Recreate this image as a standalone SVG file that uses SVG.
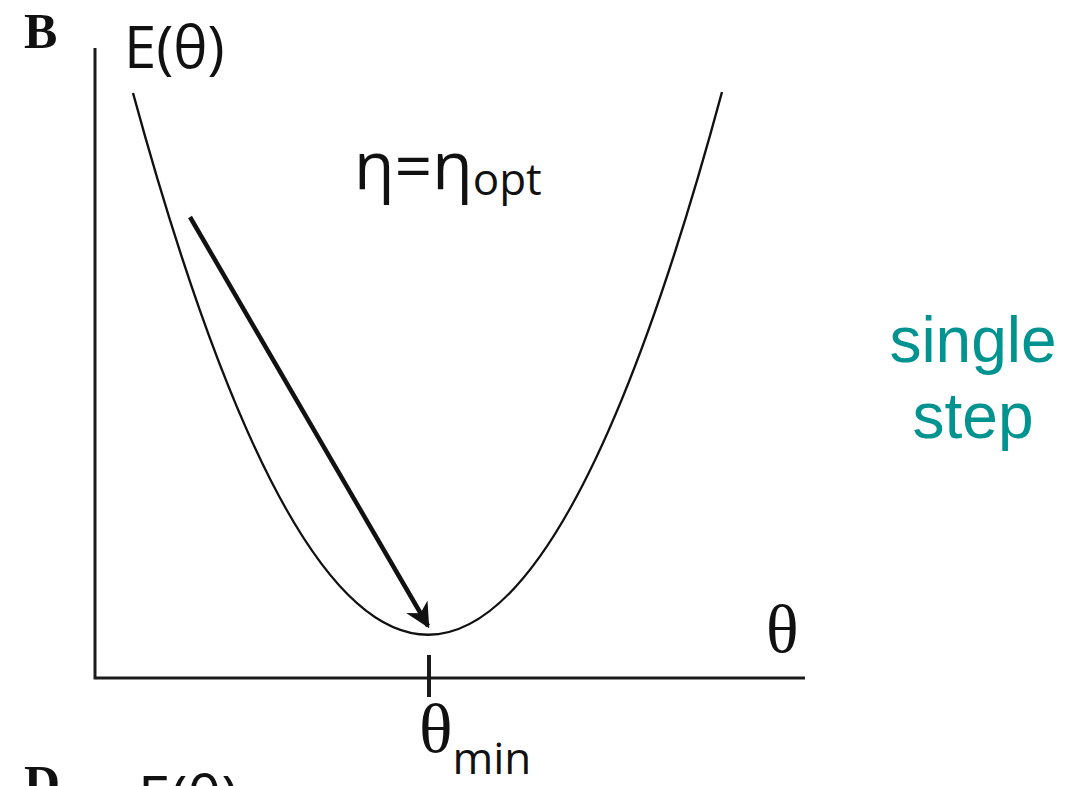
<svg xmlns="http://www.w3.org/2000/svg" width="1084" height="786" viewBox="0 0 1084 786">
<style>
.ax{stroke:#1a1a1a;stroke-width:3;fill:none}
.serif{font-family:"Liberation Serif","DejaVu Serif",serif;fill:#111}
.sans{font-family:"Open Sans","Liberation Sans",sans-serif;fill:#111}
.teal{font-family:"Liberation Sans",Arial,sans-serif;fill:#00938f;font-size:64px;text-anchor:middle}
</style>
<defs>
<marker id="ah" viewBox="0 0 10 10" refX="9" refY="5" markerWidth="6" markerHeight="5.5" orient="auto" markerUnits="strokeWidth">
<path d="M0,0 L10,5 L0,10 L3,5 Z" fill="#111"/>
</marker>
</defs>
<rect width="1084" height="786" fill="#fff"/>
<g id="axes">
<path class="ax" d="M95,48 V678 H805"/>
<path class="ax" d="M429,655 V697" style="stroke-width:4"/>
</g>
<g id="curve">
<path d="M133,93 Q429,1177 722,92" fill="none" stroke="#111" stroke-width="2.4"/>
</g>
<g id="connectors">
<line x1="190" y1="217" x2="428" y2="626" stroke="#111" stroke-width="4.5" marker-end="url(#ah)"/>
</g>
<g id="labels">
<text class="serif" x="24" y="48" font-size="50" font-weight="bold">B</text>
<text class="sans" x="124" y="68" font-size="58">E(θ)</text>
<text class="sans" x="354" y="189" font-size="66">η=η<tspan font-size="44" dy="6">opt</tspan></text>
<text class="serif" x="766" y="652" font-size="68">θ</text>
<text class="serif" x="419" y="752" font-size="70">θ<tspan class="sans" font-size="44" dy="22">min</tspan></text>
<text class="serif" x="24" y="800" font-size="50" font-weight="bold">D</text>
<text class="sans" x="138" y="818" font-size="58">E(θ)</text>
</g>
<g id="side">
<text class="teal" x="973" y="362">single</text>
<text class="teal" x="973" y="438">step</text>
</g>
</svg>
